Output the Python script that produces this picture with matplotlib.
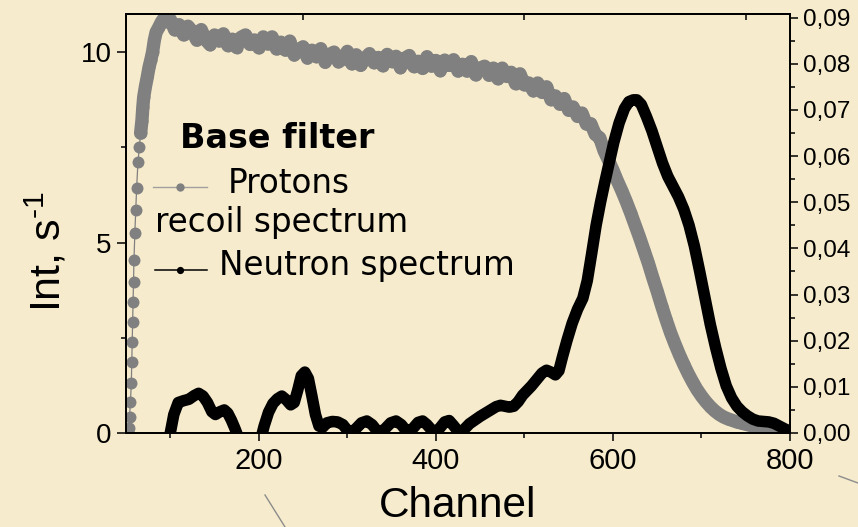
import matplotlib
matplotlib.use("Agg")
import matplotlib.pyplot as plt
from matplotlib.lines import Line2D
from matplotlib.ticker import FixedLocator

# ---- proton recoil spectrum (left axis, Int, s^-1) ----
proton_ch = [52, 53, 54, 55, 56, 56.5, 57, 57.5, 58, 58.5, 59, 60, 61, 62, 63.5,
             65, 66.5, 68, 69, 70, 72, 74, 76, 78, 80, 82, 84, 87, 90, 93, 96,
             100, 105, 110, 115, 120, 125, 130, 135, 140, 145, 150, 155, 160,
             165, 170, 175, 180, 185, 190, 195, 200, 205, 210, 215, 220, 225,
             230, 235, 240, 245, 250, 255, 260, 265, 270, 275, 280, 285, 290,
             295, 300, 305, 310, 315, 320, 325, 330, 335, 340, 345, 350, 355,
             360, 365, 370, 375, 380, 385, 390, 395, 400, 405, 410, 415, 420,
             425, 430, 435, 440, 445, 450, 455, 460, 465, 470, 475, 480, 485,
             490, 495, 500, 505, 510, 515, 520, 525, 530, 535, 540, 545, 550,
             555, 560, 565, 570, 575, 580, 585, 590, 595, 600, 605, 610, 615,
             620, 625, 630, 635, 640, 645, 650, 655, 660, 665, 670, 675, 680,
             685, 690, 695, 700, 705, 710, 715, 720, 725, 730, 735, 740, 745,
             750, 755, 760, 765, 770, 775, 780, 785, 790, 795, 800]
proton_int = [0.02, 0.13, 0.42, 0.81, 1.31, 1.86, 2.40, 2.92, 3.45, 3.96, 4.54,
              5.25, 5.85, 6.43, 7.11, 7.50, 7.87, 8.20, 8.55, 8.82, 9.10, 9.34,
              9.60, 9.79, 10.00, 10.31, 10.52, 10.65, 10.79, 10.89, 10.80,
              10.86, 10.58, 10.72, 10.45, 10.68, 10.54, 10.31, 10.59, 10.32,
              10.19, 10.45, 10.29, 10.48, 10.17, 10.34, 10.12, 10.39, 10.45,
              10.20, 10.32, 10.11, 10.40, 10.21, 10.40, 10.08, 10.26, 10.05,
              10.29, 9.92, 10.06, 10.14, 9.84, 10.05, 9.88, 10.09, 9.73, 9.94,
              10.00, 9.74, 9.82, 10.02, 9.69, 9.93, 9.65, 9.84, 9.96, 9.72,
              9.86, 9.64, 9.94, 9.75, 9.89, 9.59, 9.84, 9.91, 9.62, 9.76, 9.57,
              9.88, 9.63, 9.78, 9.51, 9.79, 9.65, 9.80, 9.50, 9.68, 9.50, 9.75,
              9.40, 9.58, 9.63, 9.39, 9.58, 9.30, 9.58, 9.36, 9.47, 9.17, 9.43,
              9.14, 9.19, 8.98, 9.19, 8.94, 9.09, 8.75, 8.85, 8.63, 8.78, 8.47,
              8.56, 8.31, 8.40, 8.11, 8.12, 7.84, 7.75, 7.41, 7.16, 6.90, 6.62,
              6.36, 6.08, 5.78, 5.46, 5.14, 4.80, 4.46, 4.08, 3.72, 3.34, 2.98,
              2.64, 2.34, 2.06, 1.80, 1.56, 1.34, 1.14, 0.97, 0.82, 0.69, 0.58,
              0.49, 0.42, 0.37, 0.33, 0.29, 0.26, 0.23, 0.20, 0.17, 0.14, 0.12,
              0.10, 0.08, 0.06, 0.04, 0.03, 0.02]

# ---- neutron spectrum (right axis) ----
neutron_ch = [88, 96, 100, 104, 109, 115, 121, 127, 132, 137, 142, 147, 151,
              156, 161, 165, 169, 173, 178, 183, 197, 202, 206, 211, 216, 221,
              226, 231, 236, 240, 244, 248, 252, 256, 260, 264, 268, 272, 277,
              283, 289, 295, 300, 305, 310, 316, 322, 328, 333, 338, 343, 349,
              355, 361, 366, 370, 375, 380, 385, 390, 395, 400, 405, 410, 415,
              420, 425, 429, 433, 438, 444, 450, 456, 462, 468, 473, 478, 483,
              488, 493, 498, 503, 508, 514, 520, 525, 530, 535, 539, 543, 548,
              554, 560, 566, 571, 576, 581, 586, 591, 596, 601, 607, 613, 618,
              623, 627, 632, 638, 644, 650, 656, 662, 668, 674, 680, 686, 692,
              698, 704, 710, 716, 722, 728, 734, 740, 746, 752, 758, 764, 770,
              776, 782, 788, 794, 800]
neutron_int = [-0.006, -0.003, 0.0, 0.004, 0.0066, 0.0070, 0.0073, 0.0081,
               0.0086, 0.0080, 0.0066, 0.0046, 0.0040, 0.0046, 0.0050, 0.0043,
               0.0028, 0.0010, -0.0015, -0.005, -0.005, -0.0015, 0.0015, 0.0045,
               0.0064, 0.0074, 0.0080, 0.0072, 0.0061, 0.0066, 0.0093, 0.0124,
               0.0132, 0.0118, 0.0080, 0.0040, 0.0015, 0.0012, 0.0022, 0.0025,
               0.0024, 0.0018, 0.0006, 0.0002, 0.0010, 0.0022, 0.0026, 0.0018,
               0.0006, 0.0002, 0.0010, 0.0022, 0.0026, 0.0018, 0.0006, 0.0002,
               0.0012, 0.0023, 0.0026, 0.0018, 0.0007, 0.0002, 0.0012, 0.0024,
               0.0027, 0.0016, 0.0004, 0.0002, 0.0010, 0.0020, 0.0028, 0.0036,
               0.0043, 0.0050, 0.0057, 0.0060, 0.0058, 0.0056, 0.0058, 0.0068,
               0.0082, 0.0092, 0.0102, 0.0116, 0.0130, 0.0136, 0.0132, 0.0126,
               0.0135, 0.0165, 0.0200, 0.0238, 0.0268, 0.0292, 0.0330, 0.0389,
               0.0450, 0.0500, 0.0545, 0.0588, 0.0630, 0.0672, 0.0703, 0.0718,
               0.0722, 0.0722, 0.0712, 0.0685, 0.0655, 0.0620, 0.0585, 0.0556,
               0.0534, 0.0512, 0.0485, 0.0450, 0.0405, 0.0350, 0.0292, 0.0235,
               0.0185, 0.0140, 0.0102, 0.0076, 0.0058, 0.0046, 0.0037, 0.0030,
               0.0026, 0.0025, 0.0024, 0.0021, 0.0015, 0.0009, 0.0004]

# ---- axes ticks and labels ----
x_major = [200, 400, 600, 800]
x_minor = [100, 300, 500, 700]
x_top = [250, 500, 750]
y_left_major = [0, 5, 10]
y_left_minor = [2.5, 7.5]
y_right_major = [0.00, 0.01, 0.02, 0.03, 0.04, 0.05, 0.06, 0.07, 0.08, 0.09]
y_right_labels = ["0,00", "0,01", "0,02", "0,03", "0,04", "0,05", "0,06",
                  "0,07", "0,08", "0,09"]
y_right_minor = [0.005, 0.015, 0.025, 0.035, 0.045, 0.055, 0.065, 0.075, 0.085]

plt.rcParams["font.family"] = ["Liberation Sans", "DejaVu Sans"]
plt.rcParams["mathtext.fontset"] = "custom"
plt.rcParams["mathtext.rm"] = "Liberation Sans"

W, H = 858, 527
BG = "#F6EBCC"
GRAY = "#808080"

fig = plt.figure(figsize=(W / 100, H / 100), dpi=100)
fig.patch.set_facecolor(BG)


def fx(px):
    return px / W


def fy(py):
    return 1 - py / H


ax = fig.add_axes([fx(126), fy(433), (790 - 126) / W, (433 - 14) / H])
ax.patch.set_alpha(0)

# proton points: thin connecting line with round markers; where the points
# crowd together they merge into a continuous ribbon
ax.plot(proton_ch, proton_int, color=GRAY, lw=0.9, marker="o", ms=8.6,
        mfc=GRAY, mec=GRAY, mew=0)
crowded = [i for i, c in enumerate(proton_ch) if c >= 66]
ax.plot([proton_ch[i] for i in crowded], [proton_int[i] for i in crowded],
        color=GRAY, lw=9.6, solid_joinstyle="round", solid_capstyle="round")
ax.set_xlim(50, 800)
ax.set_ylim(0, 11)

ax2 = ax.twinx()
ax2.plot(neutron_ch, neutron_int, color="black", lw=8.3,
         solid_capstyle="round", solid_joinstyle="round")
ax2.set_ylim(0, 0.0908)

# tick layout
ax.set_xticks(x_major)
ax.set_xticklabels([str(v) for v in x_major])
ax.xaxis.set_minor_locator(FixedLocator(x_minor))
ax.set_yticks(y_left_major)
ax.set_yticklabels([str(v) for v in y_left_major])
ax.yaxis.set_minor_locator(FixedLocator(y_left_minor))
ax.tick_params(axis="x", which="major", direction="out", length=6, width=1.1,
               labelsize=21, pad=4)
ax.tick_params(axis="x", which="minor", direction="out", length=3.6, width=1.1)
ax.tick_params(axis="y", which="major", direction="out", length=6.5, width=1.1,
               labelsize=20, pad=4)
ax.tick_params(axis="y", which="minor", direction="out", length=3.6, width=1.1)

ax2.set_yticks(y_right_major)
ax2.set_yticklabels(y_right_labels)
ax2.yaxis.set_minor_locator(FixedLocator(y_right_minor))
ax2.tick_params(axis="y", which="major", direction="out", length=6, width=1.1,
                labelsize=17.5, pad=3)
ax2.tick_params(axis="y", which="minor", direction="out", length=3.6, width=1.1)

top = ax.secondary_xaxis("top")
top.set_xticks(x_top)
top.set_xticklabels([])
top.tick_params(direction="in", length=4.5, width=1.1)

for a in (ax, ax2):
    for s in a.spines.values():
        s.set_linewidth(1.3)
        s.set_color("black")
for s in top.spines.values():
    s.set_linewidth(1.3)

# axis titles
fig.text(fx(458), fy(517), "Channel", ha="center", va="baseline", fontsize=30.5)
fig.text(fx(47), fy(252), r"Int, s$^{\text{-1}}$", ha="center", va="center",
         rotation=90, fontsize=31)

# in-plot key
key_font = ["DejaVu Sans"]
fig.text(fx(180), fy(148), "Base filter", fontsize=24, fontweight="bold",
         family=key_font, va="baseline")
fig.text(fx(228), fy(193), "Protons", fontsize=23.5, family=key_font,
         va="baseline")
fig.text(fx(155), fy(232), "recoil spectrum", fontsize=23.5, family=key_font,
         va="baseline")
fig.text(fx(219), fy(275), "Neutron spectrum", fontsize=23.5, family=key_font,
         va="baseline")

fig.add_artist(Line2D([fx(153), fx(207)], [fy(187), fy(187)], color="#a0a0a0",
                      lw=1.0))
fig.add_artist(Line2D([fx(180)], [fy(187)], color=GRAY, marker="o", ms=6,
                      mew=0, ls="none"))
fig.add_artist(Line2D([fx(155), fx(207)], [fy(270), fy(270)], color="black",
                      lw=1.1))
fig.add_artist(Line2D([fx(180)], [fy(270)], color="black", marker="o", ms=5.2,
                      mew=0, ls="none"))

# faint connector strokes at the lower edge of the slide
fig.add_artist(Line2D([fx(265), fx(285)], [fy(495), fy(527)], color="#8c8c8c",
                      lw=1.0))
fig.add_artist(Line2D([fx(839), fx(858)], [fy(476), fy(483)], color="#8c8c8c",
                      lw=1.0))

fig.savefig("out.png", dpi=100, facecolor=BG)
